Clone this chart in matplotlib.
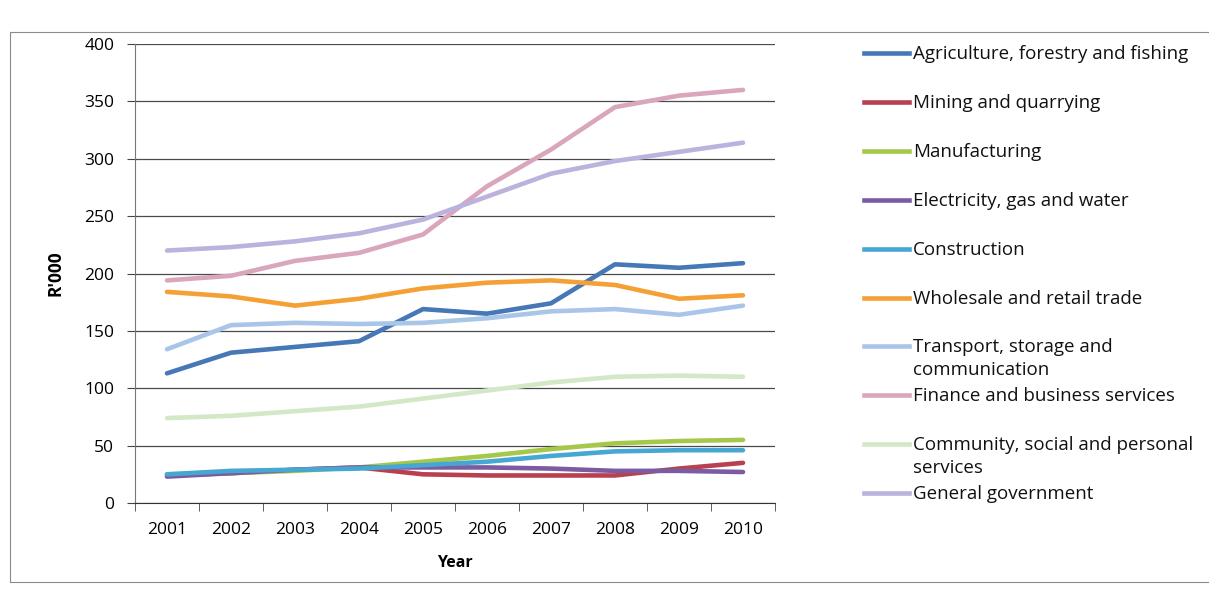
import matplotlib
matplotlib.use("Agg")
import matplotlib.pyplot as plt
from matplotlib.lines import Line2D
from matplotlib.patches import Rectangle

plt.rcParams['font.family'] = ['Open Sans', 'DejaVu Sans']

# --- data (R'000) ---
years = [2001, 2002, 2003, 2004, 2005, 2006, 2007, 2008, 2009, 2010]

agriculture = [113, 131, 136, 141, 169, 165, 174, 208, 205, 209]
mining = [24, 26, 29, 31, 25, 24, 24, 24, 30, 35]
manufacturing = [25, 26, 28, 31, 36, 41, 47, 52, 54, 55]
electricity = [23, 26, 29, 31, 31, 31, 30, 28, 28, 27]
construction = [25, 28, 29, 30, 33, 36, 41, 45, 46, 46]
wholesale = [184, 180, 172, 178, 187, 192, 194, 190, 178, 181]
transport = [134, 155, 157, 156, 157, 161, 167, 169, 164, 172]
finance = [194, 198, 211, 218, 234, 276, 308, 345, 355, 360]
community = [74, 76, 80, 84, 91, 98, 105, 110, 111, 110]
government = [220, 223, 228, 235, 247, 267, 287, 298, 306, 314]

labels = ["Agriculture, forestry and fishing",
          "Mining and quarrying",
          "Manufacturing",
          "Electricity, gas and water",
          "Construction",
          "Wholesale and retail trade",
          "Transport, storage and\ncommunication",
          "Finance and business services",
          "Community, social and personal\nservices",
          "General government"]

series = [agriculture, mining, manufacturing, electricity, construction,
          wholesale, transport, finance, community, government]

colors = ['#4677B6', '#B8404F', '#A6C84A', '#7B5CA3', '#46A8D2',
          '#F5A034', '#A9C6E8', '#D9A6BC', '#D2E8C6', '#BBB2DD']

W, H = 1209, 593
fig = plt.figure(figsize=(W / 100, H / 100), dpi=100)

# outer chart border
fig.add_artist(Rectangle((10 / W, 1 - 582 / H), (W - 8) / W, (582 - 32) / H,
                         transform=fig.transFigure, fill=False,
                         edgecolor='#8a8a8a', linewidth=0.8))

ax = fig.add_axes([135 / W, 1 - 503 / H, (775 - 135) / W, (503 - 44) / H])

for vals, c in zip(series, colors):
    ax.plot(years, vals, color=c, linewidth=3.3, solid_capstyle='round')

ax.set_ylim(0, 400)
ax.set_yticks(range(0, 401, 50))
ax.set_xlim(2000.5, 2010.5)
ax.set_xticks(years)
ax.set_xticks([y - 0.5 for y in years] + [2010.5], minor=True)
ax.tick_params(axis='x', which='major', length=0, pad=14, labelsize=12.5)
ax.tick_params(axis='x', which='minor', length=6, direction='out', color='#444444')
ax.tick_params(axis='y', length=6, direction='out', color='#444444',
               labelsize=12.5, pad=9)

ax.grid(axis='y', color='#4a4a4a', linewidth=0.9)
ax.set_axisbelow(True)
for side in ['top', 'right']:
    ax.spines[side].set_visible(False)
ax.spines['left'].set_color('#777777')
ax.spines['bottom'].set_color('#333333')

ax.set_xlabel("Year", fontsize=11.5, fontweight='bold', labelpad=12)
ax.set_ylabel("R'000", fontsize=12.5, fontweight='bold', labelpad=14)

# legend drawn entry by entry to keep the original even spacing
x0, x1 = 864 / W, 909 / W
for i, (lab, c) in enumerate(zip(labels, colors)):
    y = 1 - (53 + i * 48.9) / H
    fig.add_artist(Line2D([x0, x1], [y, y], transform=fig.transFigure,
                          color=c, linewidth=3.3))
    for k, part in enumerate(lab.split("\n")):
        fig.text(913 / W, y - (6 + 23 * k) / H, part, fontsize=13.5,
                 va='baseline', ha='left', color='#111111')

fig.savefig("out.png", dpi=100)
